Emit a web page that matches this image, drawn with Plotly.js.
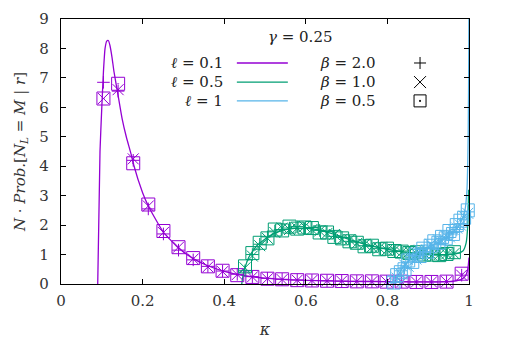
<!DOCTYPE html>
<html>
<head>
<meta charset="utf-8">
<script src="https://cdn.plot.ly/plotly-3.0.1.min.js"></script>
<style>
html,body{margin:0;padding:0;background:#fff;}
#chart{width:505px;height:354px;}
</style>
</head>
<body>
<div id="chart"></div>
<script>
// ---- data ----
// l = 0.1 (purple) simulation points
const kappaP = [0.104, 0.140, 0.177, 0.214, 0.251, 0.288, 0.324, 0.360, 0.396, 0.432, 0.469, 0.506, 0.542, 0.579, 0.615, 0.652, 0.688, 0.725, 0.762, 0.798, 0.835, 0.871, 0.908, 0.945, 0.982];
const pBeta20 = [6.85, 6.55, 4.20, 2.55, 1.70, 1.15, 0.82, 0.60, 0.44, 0.33, 0.25, 0.19, 0.16, 0.14, 0.12, 0.11, 0.10, 0.09, 0.09, 0.08, 0.08, 0.07, 0.07, 0.08, 0.30];
const pBeta10 = [6.30, 6.60, 4.25, 2.65, 1.75, 1.25, 0.85, 0.58, 0.42, 0.32, 0.24, 0.18, 0.15, 0.13, 0.12, 0.11, 0.10, 0.09, 0.08, 0.08, 0.07, 0.07, 0.07, 0.08, 0.30];
const pBeta05 = [6.30, 6.80, 4.10, 2.70, 1.80, 1.25, 0.88, 0.60, 0.45, 0.30, 0.24, 0.18, 0.16, 0.13, 0.12, 0.11, 0.10, 0.09, 0.09, 0.08, 0.08, 0.07, 0.07, 0.08, 0.35];
// l = 0.5 (green) simulation points
const kappaG = [0.451, 0.469, 0.487, 0.506, 0.524, 0.542, 0.560, 0.579, 0.597, 0.615, 0.634, 0.652, 0.670, 0.689, 0.707, 0.725, 0.744, 0.762, 0.780, 0.799, 0.817, 0.835, 0.854, 0.872, 0.890, 0.909, 0.927, 0.945, 0.963];
const gBeta20 = [0.45, 1.00, 1.35, 1.60, 1.80, 1.85, 1.90, 1.95, 1.88, 1.92, 1.82, 1.78, 1.62, 1.58, 1.45, 1.42, 1.30, 1.28, 1.20, 1.22, 1.10, 1.12, 1.05, 1.05, 1.00, 1.02, 0.98, 1.00, 1.05];
const gBeta10 = [0.55, 0.95, 1.30, 1.55, 1.75, 1.90, 1.85, 1.90, 1.95, 1.85, 1.80, 1.72, 1.68, 1.52, 1.50, 1.38, 1.35, 1.25, 1.22, 1.15, 1.15, 1.08, 1.10, 1.02, 1.05, 0.98, 1.00, 1.02, 1.03];
const gBeta05 = [0.60, 1.05, 1.40, 1.55, 1.85, 1.82, 1.95, 1.88, 1.92, 1.90, 1.75, 1.75, 1.60, 1.55, 1.45, 1.40, 1.28, 1.30, 1.18, 1.20, 1.12, 1.10, 1.05, 1.08, 1.00, 1.00, 0.98, 1.02, 1.08];
// l = 1 (light blue) simulation points
const kappaB = [0.815, 0.824, 0.833, 0.842, 0.851, 0.861, 0.870, 0.879, 0.888, 0.897, 0.906, 0.915, 0.925, 0.934, 0.943, 0.952, 0.961, 0.970, 0.979, 0.988, 0.997];
const bBeta20 = [0.05, 0.25, 0.45, 0.55, 0.75, 0.85, 0.95, 1.05, 1.10, 1.25, 1.20, 1.40, 1.35, 1.55, 1.50, 1.70, 1.75, 1.85, 2.05, 2.20, 2.45];
const bBeta10 = [0.10, 0.20, 0.35, 0.65, 0.60, 0.90, 0.85, 1.15, 1.05, 1.15, 1.35, 1.25, 1.50, 1.45, 1.65, 1.60, 1.85, 1.90, 2.00, 2.30, 2.40];
const bBeta05 = [0.05, 0.30, 0.40, 0.50, 0.80, 0.75, 1.00, 0.95, 1.20, 1.10, 1.30, 1.45, 1.40, 1.60, 1.55, 1.80, 1.70, 2.00, 2.15, 2.25, 2.50];
// theory curves
const curvePx = [0.090, 0.0956, 0.100, 0.104, 0.108, 0.112, 0.116, 0.120, 0.125, 0.130, 0.140, 0.150, 0.160, 0.172, 0.177, 0.200, 0.214, 0.250, 0.288, 0.324, 0.360, 0.400, 0.450, 0.500, 0.550, 0.600, 0.700, 0.800, 0.900, 0.950, 0.980, 0.990, 0.997, 1.000];
const curvePy = [0, 4.5, 6.0, 7.2, 8.0, 8.25, 8.27, 8.1, 7.7, 7.2, 6.4, 5.6, 5.0, 4.4, 4.1, 3.1, 2.65, 1.78, 1.22, 0.86, 0.62, 0.43, 0.28, 0.20, 0.15, 0.12, 0.09, 0.08, 0.07, 0.08, 0.15, 0.25, 0.5, 0.9];
const curveGx = [0.443, 0.447, 0.452, 0.460, 0.470, 0.480, 0.490, 0.510, 0.530, 0.560, 0.590, 0.620, 0.650, 0.680, 0.710, 0.740, 0.770, 0.800, 0.830, 0.860, 0.890, 0.920, 0.950, 0.970, 0.985, 0.993, 0.997, 0.999];
const curveGy = [0, 0.35, 0.6, 0.9, 1.12, 1.3, 1.42, 1.62, 1.76, 1.87, 1.9, 1.86, 1.77, 1.64, 1.5, 1.37, 1.26, 1.18, 1.11, 1.06, 1.02, 1.0, 1.0, 1.03, 1.12, 1.4, 2.0, 3.2];
const curveBx = [0.818, 0.825, 0.835, 0.850, 0.870, 0.890, 0.910, 0.930, 0.950, 0.970, 0.980, 0.990, 0.995, 0.998, 0.9995, 1.000];
const curveBy = [0, 0.25, 0.5, 0.75, 0.98, 1.15, 1.3, 1.45, 1.65, 1.9, 2.1, 2.5, 3.2, 5.0, 8.0, 10];
const xTicks = [0, 0.2, 0.4, 0.6, 0.8, 1];
const xTickText = ['0', '0.2', '0.4', '0.6', '0.8', '1'];
const yTicks = [0, 1, 2, 3, 4, 5, 6, 7, 8, 9];
const ellLabels = ['<i>ℓ</i> = 0.1', '<i>ℓ</i> = 0.5', '<i>ℓ</i> = 1'];
const betaLabels = ['<i>β</i> = 2.0', '<i>β</i> = 1.0', '<i>β</i> = 0.5'];
const gammaLabel = '<i>γ</i> = 0.25';

// ---- styles ----
const cP = '#9400d3', cG = '#009e73', cB = '#56b4e9';
const SERIF = 'DejaVu Serif';
const symPlus = {symbol: 'cross-thin-open', size: 9, line: {width: 1}};
const symX = {symbol: 'x-thin-open', size: 11, line: {width: 1}};
const symSq = {symbol: 'square-open-dot', size: 13, line: {width: 1}};

function curve(x, y, c) {
  return {x: x, y: y, type: 'scatter', mode: 'lines', line: {color: c, width: 1.3, shape: 'spline', smoothing: 0.5}, hoverinfo: 'skip', showlegend: false};
}
function pts(x, y, c, sym) {
  return {x: x, y: y, type: 'scatter', mode: 'markers', cliponaxis: false,
    marker: {symbol: sym.symbol, size: sym.size, color: c, line: {color: c, width: sym.line.width}}, showlegend: false};
}

const traces = [
  curve(curvePx, curvePy, cP),
  curve(curveGx, curveGy, cG),
  curve(curveBx, curveBy, cB),
  pts(kappaP, pBeta20, cP, symPlus), pts(kappaP, pBeta10, cP, symX), pts(kappaP, pBeta05, cP, symSq),
  pts(kappaG, gBeta20, cG, symPlus), pts(kappaG, gBeta10, cG, symX), pts(kappaG, gBeta05, cG, symSq),
  pts(kappaB, bBeta20, cB, symPlus), pts(kappaB, bBeta10, cB, symX), pts(kappaB, bBeta05, cB, symSq)
];

// legend geometry (paper coords)
const rowY = [0.834, 0.762, 0.691];
const lineColors = [cP, cG, cB];
const shapes = [];
function txt() { return {family: SERIF, size: 15, color: '#222'}; }
const annotations = [{xref: 'paper', yref: 'paper', x: 0.586, y: 0.933, text: gammaLabel, showarrow: false, xanchor: 'center', yanchor: 'middle', font: txt()}];
const mx = 0.880, dx = 6 / 408, dy = 6 / 265;
for (let i = 0; i < 3; i++) {
  annotations.push({xref: 'paper', yref: 'paper', x: 0.402, y: rowY[i], text: ellLabels[i], showarrow: false, xanchor: 'right', yanchor: 'middle', font: txt()});
  annotations.push({xref: 'paper', yref: 'paper', x: 0.630, y: rowY[i], text: betaLabels[i], showarrow: false, xanchor: 'left', yanchor: 'middle', font: txt()});
  shapes.push({type: 'line', xref: 'paper', yref: 'paper', x0: 0.431, x1: 0.556, y0: rowY[i], y1: rowY[i], line: {color: lineColors[i], width: 1.3}});
}
// + symbol
shapes.push({type: 'line', xref: 'paper', yref: 'paper', x0: mx - dx, x1: mx + dx, y0: rowY[0], y1: rowY[0], line: {color: '#000', width: 1}});
shapes.push({type: 'line', xref: 'paper', yref: 'paper', x0: mx, x1: mx, y0: rowY[0] - dy, y1: rowY[0] + dy, line: {color: '#000', width: 1}});
// x symbol
shapes.push({type: 'line', xref: 'paper', yref: 'paper', x0: mx - dx, x1: mx + dx, y0: rowY[1] - dy, y1: rowY[1] + dy, line: {color: '#000', width: 1}});
shapes.push({type: 'line', xref: 'paper', yref: 'paper', x0: mx - dx, x1: mx + dx, y0: rowY[1] + dy, y1: rowY[1] - dy, line: {color: '#000', width: 1}});
// square-dot symbol
shapes.push({type: 'rect', xref: 'paper', yref: 'paper', x0: mx - dx, x1: mx + dx, y0: rowY[2] - dy, y1: rowY[2] + dy, line: {color: '#000', width: 1}});
shapes.push({type: 'rect', xref: 'paper', yref: 'paper', x0: mx - 0.5 / 408, x1: mx + 0.5 / 408, y0: rowY[2] - 0.5 / 265, y1: rowY[2] + 0.5 / 265, line: {color: '#000', width: 1}, fillcolor: '#000'});

function axis(extra) {
  return Object.assign({showgrid: false, zeroline: false, showline: true, linecolor: '#000', linewidth: 1.2, mirror: 'ticks',
    ticks: 'inside', ticklen: 5, tickcolor: '#000', tickwidth: 1, tickfont: {family: SERIF, size: 15, color: '#333'}}, extra);
}

const layout = {
  width: 505, height: 354,
  font: {family: SERIF, size: 15, color: '#333'},
  margin: {l: 61, r: 36, t: 19, b: 70, pad: 0},
  paper_bgcolor: '#fff', plot_bgcolor: '#fff',
  showlegend: false,
  xaxis: axis({range: [0, 1], tickvals: xTicks, ticktext: xTickText, ticklabelstandoff: 3,
    title: {text: '<i>κ</i>', font: {family: SERIF, size: 16, color: '#333'}, standoff: 14}}),
  yaxis: axis({range: [0, 9], tickvals: yTicks, ticklabelstandoff: 8,
    title: {text: '<i>N</i> · <i>Prob.</i>[<i>N</i><sub><i>L</i></sub> = <i>M</i> | <i>r</i>]', font: {family: SERIF, size: 15, color: '#333'}, standoff: 10}}),
  shapes: shapes,
  annotations: annotations
};

Plotly.newPlot('chart', traces, layout, {staticPlot: true});
</script>
</body>
</html>
